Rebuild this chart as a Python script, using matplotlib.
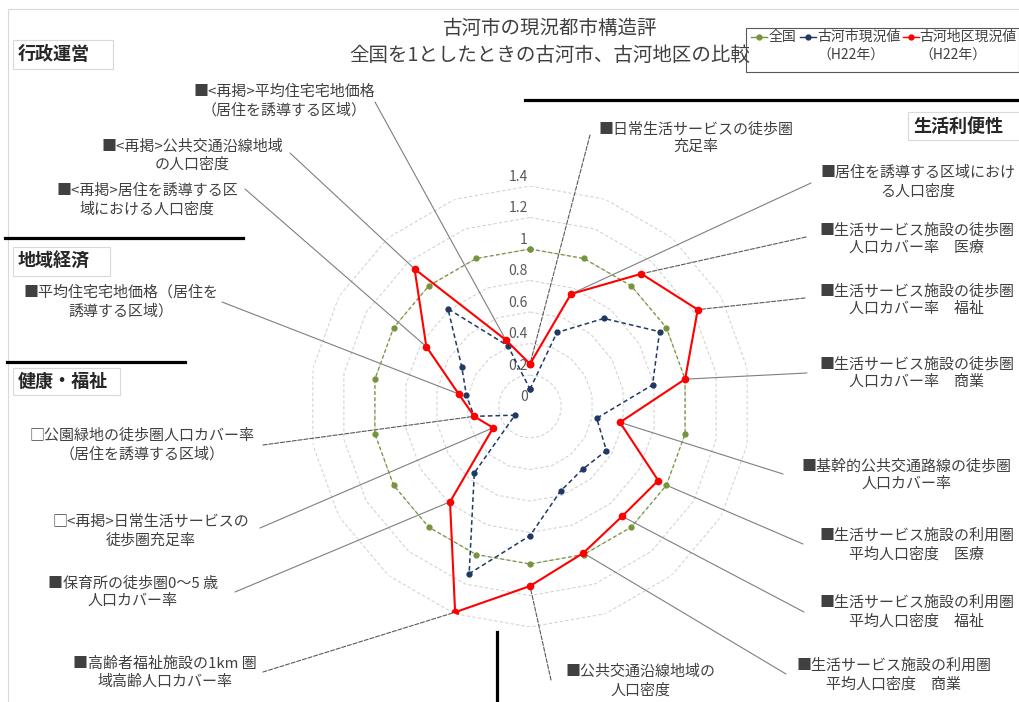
import numpy as np
from matplotlib import pyplot as plt
from matplotlib.patches import Rectangle
from matplotlib.lines import Line2D

plt.rcParams['font.family'] = ['Noto Sans CJK JP', 'DejaVu Sans']

W, H = 1020, 702

title = '古河市の現況都市構造評\n全国を1としたときの古河市、古河地区の比較'

categories = [
    '■日常生活サービスの徒歩圏\n充足率',
    '■居住を誘導する区域におけ\nる人口密度',
    '■生活サービス施設の徒歩圏\n人口カバー率　医療',
    '■生活サービス施設の徒歩圏\n人口カバー率　福祉',
    '■生活サービス施設の徒歩圏\n人口カバー率　商業',
    '■基幹的公共交通路線の徒歩圏\n人口カバー率',
    '■生活サービス施設の利用圏\n平均人口密度　医療',
    '■生活サービス施設の利用圏\n平均人口密度　福祉',
    '■生活サービス施設の利用圏\n平均人口密度　商業',
    '■公共交通沿線地域の\n人口密度',
    '■高齢者福祉施設の1km 圏\n域高齢人口カバー率',
    '■保育所の徒歩圏0～5 歳\n人口カバー率',
    '□<再掲>日常生活サービスの\n徒歩圏充足率',
    '□公園緑地の徒歩圏人口カバー率\n（居住を誘導する区域）',
    '■平均住宅宅地価格（居住を\n誘導する区域）',
    '■<再掲>居住を誘導する区\n域における人口密度',
    '■<再掲>公共交通沿線地域\nの人口密度',
    '■<再掲>平均住宅宅地価格\n（居住を誘導する区域）',
]

zenkoku = [1.0, 1.0, 1.0, 1.0, 1.0, 1.0, 1.0, 1.0, 1.0,
           1.0, 1.0, 1.0, 1.0, 1.0, 1.0, 1.0, 1.0, 1.0]
koga_city = [0.11, 0.50, 0.73, 0.95, 0.79, 0.43, 0.56, 0.52, 0.57,
             0.82, 1.13, 0.55, 0.11, 0.36, 0.41, 0.50, 0.81, 0.41]
koga_district = [0.27, 0.76, 1.10, 1.23, 1.00, 0.58, 0.94, 0.91, 0.99,
                 1.14, 1.39, 0.79, 0.27, 0.36, 0.46, 0.76, 1.14, 0.45]

series_names = ['全国', '古河市現況値\n（H22年）', '古河地区現況値\n（H22年）']
series_colors = ['#77933C', '#1F3864', '#FF0000']

r_ticks = [0, 0.2, 0.4, 0.6, 0.8, 1.0, 1.2, 1.4]
r_tick_labels = ['0', '0.2', '0.4', '0.6', '0.8', '1', '1.2', '1.4']

sections = ['行政運営', '地域経済', '健康・福祉', '生活利便性']

# layout (pixels from top-left of the picture)
label_xy = [(696, 138), (918, 182), (917, 239), (917, 300), (917, 373), (907, 475),
            (917, 545), (917, 612), (894, 675), (641, 681), (165, 673), (133, 592),
            (151, 531), (142, 445), (121, 302), (147, 200), (192, 156), (284, 101)]
leader_from = [(590, 135), (811, 183), (806, 237), (805, 298), (807, 373), (783, 474),
               (803, 544), (804, 612), (786, 674), (551, 680), (263, 672), (235, 592),
               (260, 528), (263, 445), (222, 302), (245, 189), (290, 153), (375, 102)]
dashed_leaders = [0, 2, 3, 9, 10, 13]
section_boxes = [(13, 40, 113, 69), (13, 247, 110, 276), (13, 368, 120, 395), (908, 112, 1030, 140)]
black_bars = [((5, 238), (243, 238)), ((7, 362), (185, 362)),
              ((525, 100), (1020, 100)), ((497, 632), (497, 705))]
legend_box = (746, 28, 1019, 72)
legend_keys = [(751, 767), (800, 816), (903, 919)]
legend_text_x = [769, 817, 919]

center = (530, 406.5)
r_px = 157.5 * 1.4

text_color = '#404040'


def fx(x):
    return x / W


def fy(y):
    return 1 - y / H


def px(x, y):
    return (fx(x), fy(y))


fig = plt.figure(figsize=(W / 100, H / 100), dpi=100)

# faint chart-area border
fig.patches.append(Rectangle(px(8, 760), fx(1100), (760 - 9) / H, transform=fig.transFigure,
                             fill=False, edgecolor='#d9d9d9', lw=0.8))

ax = fig.add_axes([fx(center[0] - r_px), fy(center[1] + r_px), 2 * r_px / W, 2 * r_px / H],
                  projection='polar')
ax.set_theta_zero_location('N')
ax.set_theta_direction(-1)
ax.set_ylim(0, 1.4)
ax.set_xticks([])
ax.set_yticks([])
ax.grid(False)
ax.spines['polar'].set_visible(False)
ax.patch.set_alpha(0)

n = len(categories)
theta = np.linspace(0, 2 * np.pi, n, endpoint=False)
theta_c = np.append(theta, theta[0])


def closed(v):
    return np.append(v, v[0])


# polygon gridlines
for r in r_ticks[1:]:
    ax.plot(theta_c, [r] * (n + 1), color='#d4d4d4', lw=0.8, ls=(0, (3, 2)), zorder=1)

for r, lab in zip(r_ticks, r_tick_labels):
    ax.annotate(lab, xy=(0, r), xytext=(-1.5, 6.5), textcoords='offset points',
                ha='right', va='center', fontsize=10, color='#595959', zorder=2)

ax.plot(theta_c, closed(zenkoku), color=series_colors[0], lw=0.9, ls=(0, (3, 2)),
        marker='o', ms=3.5, zorder=3)
ax.plot(theta_c, closed(koga_city), color=series_colors[1], lw=1.1, ls=(0, (3, 2)),
        marker='o', ms=3.5, zorder=4)
ax.plot(theta_c, closed(koga_district), color=series_colors[2], lw=1.5,
        marker='o', ms=4.5, zorder=5)

# category labels with leader lines
for i, lab in enumerate(categories):
    target = zenkoku[i] if i == 6 else koga_district[i]
    ls = '--' if i in dashed_leaders else '-'
    col = '#595959' if i in dashed_leaders else '#7f7f7f'
    ax.annotate('', xy=(theta[i], target), xycoords='data',
                xytext=px(*leader_from[i]), textcoords='figure fraction',
                arrowprops=dict(arrowstyle='-', color=col, lw=0.8, ls=ls,
                                shrinkA=0, shrinkB=0), zorder=2)
    fig.text(fx(label_xy[i][0]), fy(label_xy[i][1]), lab, ha='center', va='center',
             multialignment='center', fontsize=10.8, color=text_color, linespacing=1.35)

fig.text(fx(550), fy(42), title, ha='center', va='center', multialignment='center',
         fontsize=14, color=text_color, linespacing=1.4)

for (x0, y0, x1, y1), name in zip(section_boxes, sections):
    fig.patches.append(Rectangle(px(x0, y1), fx(x1) - fx(x0), (y1 - y0) / H,
                                 transform=fig.transFigure, facecolor='white',
                                 edgecolor='#d9d9d9', lw=0.8))
    fig.text(fx(x0 + 5), fy((y0 + y1) / 2), name, ha='left', va='center',
             fontsize=13, fontweight='bold', color='#262626')

for (a, b) in black_bars:
    fig.lines.append(Line2D([fx(a[0]), fx(b[0])], [fy(a[1]), fy(b[1])],
                            transform=fig.transFigure, color='black', lw=2.3))

# legend drawn by hand so the keys sit on the first text line
x0, y0, x1, y1 = legend_box
fig.patches.append(Rectangle(px(x0, y1), fx(x1) - fx(x0), (y1 - y0) / H,
                             transform=fig.transFigure, facecolor='white',
                             edgecolor='#595959', lw=0.8))
for name, col, (ka, kb), tx in zip(series_names, series_colors, legend_keys, legend_text_x):
    fig.lines.append(Line2D([fx(ka), fx((ka + kb) / 2), fx(kb)], [fy(37)] * 3,
                            transform=fig.transFigure, color=col, lw=1.0,
                            marker='o', ms=3.5, markevery=[1]))
    for j, line in enumerate(name.split('\n')):
        fig.text(fx(tx), fy(37 + 19 * j), line, ha='left', va='center',
                 fontsize=10, color=text_color)

fig.savefig('out.png', dpi=100)
